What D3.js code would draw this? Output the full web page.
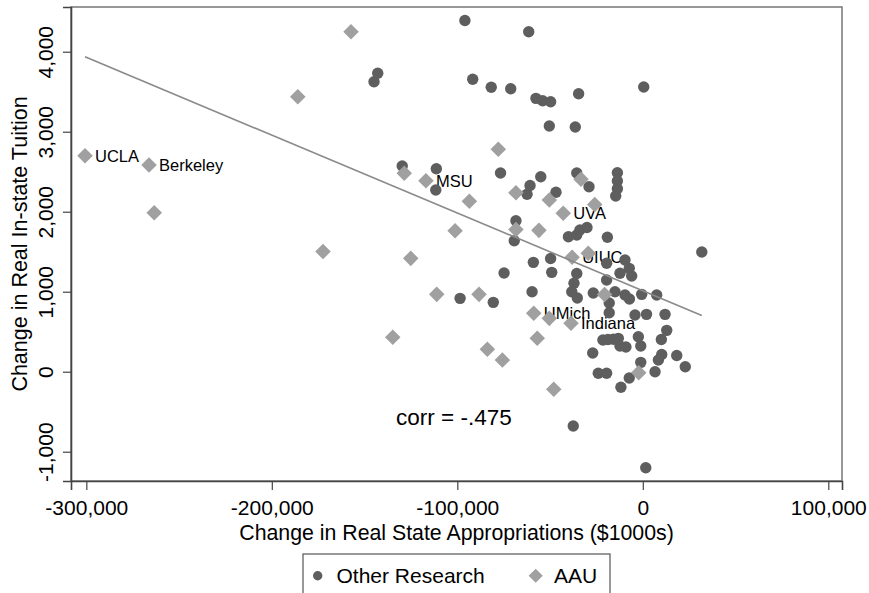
<!DOCTYPE html>
<html><head><meta charset="utf-8">
<script src="https://cdn.jsdelivr.net/npm/d3@7"></script>
<style>
html,body{margin:0;padding:0;background:#fff;}
svg{display:block;font-family:"Liberation Sans",Arial,Helvetica,sans-serif;}
</style></head>
<body>
<svg id="chart" width="869" height="593"></svg>
<script>
// ---- data ----
const otherX = [-95900,-61500,-142900,-144900,-91700,-81700,-71200,-57600,-54000,-49700,-34600,500,-50400,-36400,
 -129700,-111300,-111600,-76700,-55000,-60800,-62400,-46800,-35600,-29000,-13700,-13700,-13700,-14600,
 -68400,-69300,-40100,-35600,-33900,-30100,-19100,31800,-59000,-49700,-49100,-74800,-35600,-37100,-38300,-35300,
 -26700,-59700,-98500,-80600,-9600,-19500,-7300,-12300,-6000,-19500,-15000,-9600,-7200,-18100,-600,7500,
 -18100,-4200,2000,12000,12900,10000,-2400,-1100,-21500,-18800,-15900,-13200,-12300,-9100,-27000,10200,8400,
 18300,22900,-1100,6600,-7300,-11800,-24000,-19500,-37500,1600];
const otherY = [4390,4250,3730,3625,3655,3555,3537,3417,3387,3375,3475,3559,3071,3059,
 2571,2537,2271,2484,2437,2327,2219,2244,2484,2312,2487,2384,2286,2196,
 1887,1637,1687,1709,1771,1802,1680,1496,1367,1415,1242,1234,1227,1105,1000,921,
 984,1000,917,867,1396,1355,1292,1230,1196,1146,1000,959,909,859,967,959,
 737,709,717,717,517,402,437,321,396,402,405,417,321,309,234,215,146,
 202,62,117,0,-79,-195,-20,-20,-679,-1200];

const aauX = [-300700,-266200,-263400,-186000,-157300,-128600,-116900,-93500,-77900,-68400,-50400,-42900,-33300,-25900,
 -101200,-68400,-56000,-172400,-125100,-111100,-88300,-134800,-83800,-75700,-58800,-50400,-38700,-56900,-48000,
 -38100,-29400,-20600,-2200];
const aauY = [2700,2584,1987,3437,4250,2480,2387,2130,2780,2237,2146,1980,2406,2090,
 1762,1777,1767,1502,1417,967,967,430,280,146,730,667,605,419,-219,
 1430,1480,965,-12];
const aauLabel = ["UCLA","Berkeley","","","","","MSU","","","","","UVA","","",
 "","","","","","","","","","","UMich","","Indiana","","",
 "UIUC","","",""];

const fitX = [-300700, 31800];
const fitY = [3936, 703];

const xTicks = [-300000,-200000,-100000,0,100000];
const xTickLabels = ["-300,000","-200,000","-100,000","0","100,000"];
const yTicks = [-1000,0,1000,2000,3000,4000];
const yTickLabels = ["-1,000","0","1,000","2,000","3,000","4,000"];

const seriesNames = ["Other Research","AAU"];
const corrText = "corr = -.475";
const corrPos = [-133000, -666];

// ---- layout ----
const L = 71, T = 7, R = 842, B = 481;
const svg = d3.select("#chart");
const x = d3.scaleLinear().domain([-308260, 107390]).range([L, R]);
const y = d3.scaleLinear().domain([-1366, 4559]).range([B, T]);

const cOther = "#5e5e5e", cAAU = "#a0a0a0";

// frame
svg.append("rect").attr("x", L).attr("y", T).attr("width", R - L).attr("height", B - T)
  .attr("fill", "none").attr("stroke", "#777").attr("stroke-width", 1.5);

// axes
const xAxis = d3.axisBottom(x).tickValues(xTicks).tickSize(9).tickPadding(10)
  .tickFormat((d, i) => xTickLabels[i]);
const gx = svg.append("g").attr("transform", `translate(0,${B})`).call(xAxis);
gx.selectAll("text").attr("font-size", 21).attr("fill", "#000").attr("font-family", "Liberation Sans, Arial, sans-serif");
gx.select(".domain").attr("stroke", "#444").attr("stroke-width", 1.6);
gx.selectAll(".tick line").attr("stroke", "#444").attr("stroke-width", 1.2);

const yAxis = d3.axisLeft(y).tickValues(yTicks).tickSize(8)
  .tickFormat((d, i) => yTickLabels[i]);
const gy = svg.append("g").attr("transform", `translate(${L},0)`).call(yAxis);
gy.selectAll("text").attr("font-size", 21).attr("fill", "#000")
  .attr("font-family", "Liberation Sans, Arial, sans-serif")
  .attr("transform", "rotate(-90)").attr("x", 0).attr("y", -18).attr("dy", 0)
  .attr("text-anchor", "middle");
gy.select(".domain").attr("stroke", "#444").attr("stroke-width", 1.6);
gy.selectAll(".tick line").attr("stroke", "#444").attr("stroke-width", 1.2);

// axis titles
svg.append("text").attr("x", (L + R) / 2).attr("y", 540).attr("text-anchor", "middle")
  .attr("font-size", 21.3).text("Change in Real State Appropriations ($1000s)");
svg.append("text").attr("transform", `translate(27,${(T + B) / 2}) rotate(-90)`)
  .attr("text-anchor", "middle").attr("font-size", 21.5).text("Change in Real In-state Tuition");

// labels (drawn beneath markers)
const aau = aauX.map((v, i) => ({x: v, y: aauY[i], label: aauLabel[i]}));
svg.append("g").selectAll("text").data(aau.filter(d => d.label)).join("text")
  .attr("x", d => x(d.x) + 10).attr("y", d => y(d.y) + 6)
  .attr("font-size", 16.5).attr("fill", "#000").text(d => d.label);

// other research circles
svg.append("g").selectAll("circle").data(otherX.map((v, i) => ({x: v, y: otherY[i]}))).join("circle")
  .attr("cx", d => x(d.x)).attr("cy", d => y(d.y)).attr("r", 5.7).attr("fill", cOther);

// AAU diamonds
const diamond = d3.symbol().type(d3.symbolSquare).size(121);
svg.append("g").selectAll("path").data(aau).join("path")
  .attr("d", diamond)
  .attr("transform", d => `translate(${x(d.x)},${y(d.y)}) rotate(45)`)
  .attr("fill", cAAU);

// fit line
svg.append("line").attr("x1", x(fitX[0])).attr("y1", y(fitY[0]))
  .attr("x2", x(fitX[1])).attr("y2", y(fitY[1]))
  .attr("stroke", "#8a8a8a").attr("stroke-width", 1.6);

// corr annotation
svg.append("text").attr("x", x(corrPos[0])).attr("y", y(corrPos[1]))
  .attr("font-size", 22.5).attr("fill", "#000").text(corrText);

// legend
const lg = svg.append("g");
lg.append("rect").attr("x", 303).attr("y", 554).attr("width", 307).attr("height", 60)
  .attr("fill", "#fff").attr("stroke", "#555").attr("stroke-width", 1.2);
lg.append("circle").attr("cx", 317.7).attr("cy", 575.7).attr("r", 4.7).attr("fill", cOther);
lg.append("text").attr("x", 336.5).attr("y", 583.3).attr("font-size", 21).text(seriesNames[0]);
lg.append("path").attr("d", d3.symbol().type(d3.symbolSquare).size(100))
  .attr("transform", "translate(535.7,575.7) rotate(45)").attr("fill", cAAU);
lg.append("text").attr("x", 554).attr("y", 583.3).attr("font-size", 21).text(seriesNames[1]);
</script>
</body></html>
